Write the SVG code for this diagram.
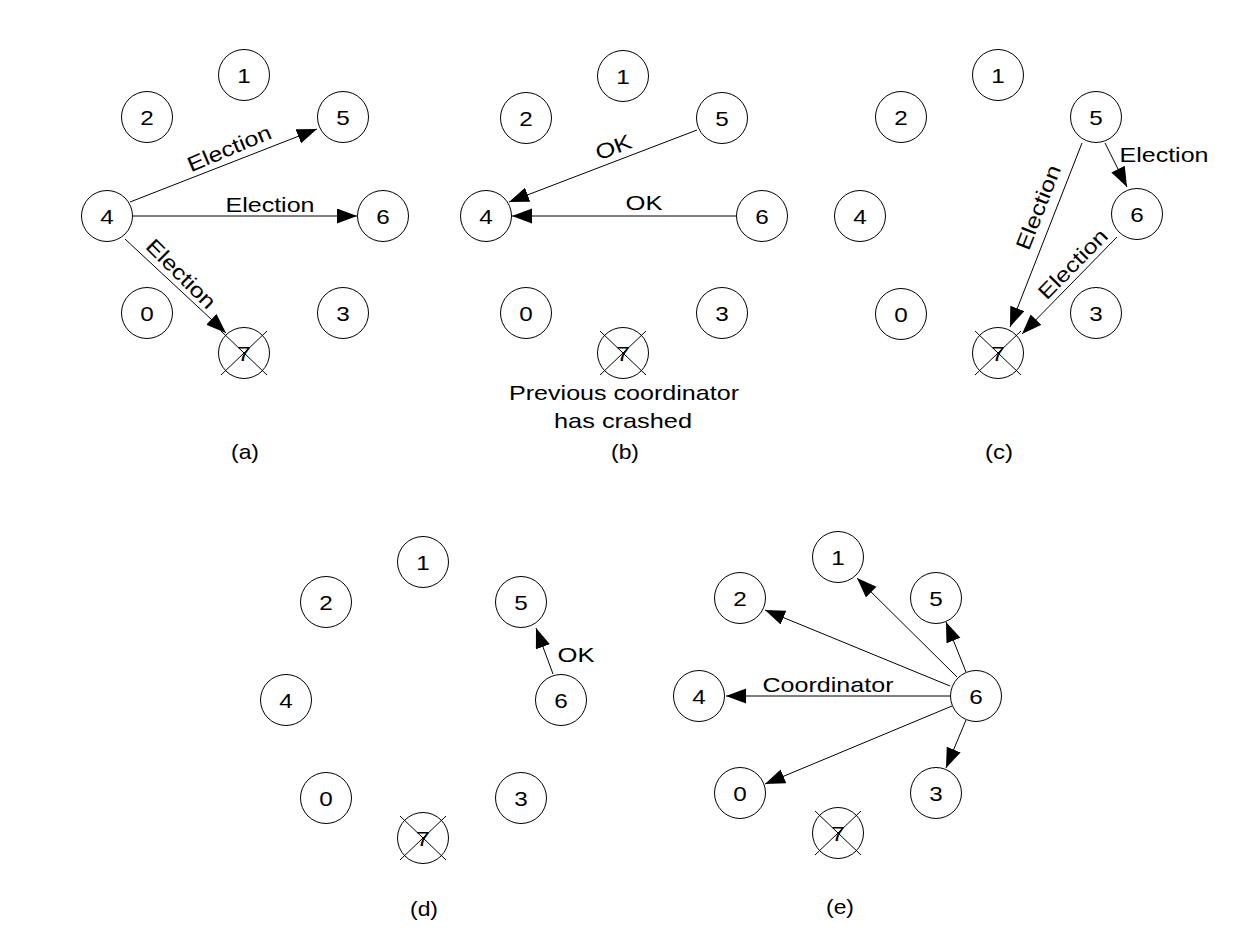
<svg xmlns="http://www.w3.org/2000/svg" width="1241" height="945" viewBox="0 0 1241 945">
  <style>
    .n circle { fill: #fff; stroke: #000; stroke-width: 1; }
    .n text, .lbl { font-family: "Liberation Sans", Arial, sans-serif; font-size: 21px; fill: #000; text-anchor: middle; }
    .x line { stroke: #000; stroke-width: 1; }
    .c line { stroke: #000; stroke-width: 1; fill: none; marker-end: url(#ah); }
  </style>
  <defs>
    <marker id="ah" markerUnits="userSpaceOnUse" markerWidth="21" markerHeight="16" refX="20" refY="7.5" orient="auto">
      <path d="M0,0 L20,7.5 L0,15 z" fill="#000"/>
    </marker>
    <!-- crash mark across a node -->
    <g id="cross" class="x">
      <line x1="-23" y1="-22" x2="23" y2="22"/>
      <line x1="23" y1="-22" x2="-23" y2="22"/>
    </g>
  </defs>

  <rect width="1241" height="945" fill="#fff"/>

  <!-- ===== (a) ===== -->
  <g id="a-nodes">
    <g id="a1" class="n"><circle cx="244" cy="75" r="25.5"/><text x="244" y="83" textLength="13.5" lengthAdjust="spacingAndGlyphs">1</text></g>
    <g id="a2" class="n"><circle cx="147" cy="117" r="25.5"/><text x="147" y="125" textLength="13.5" lengthAdjust="spacingAndGlyphs">2</text></g>
    <g id="a5" class="n"><circle cx="343" cy="117" r="25.5"/><text x="343" y="125" textLength="13.5" lengthAdjust="spacingAndGlyphs">5</text></g>
    <g id="a4" class="n"><circle cx="107" cy="216" r="25.5"/><text x="107" y="224" textLength="13.5" lengthAdjust="spacingAndGlyphs">4</text></g>
    <g id="a6" class="n"><circle cx="383" cy="216" r="25.5"/><text x="383" y="224" textLength="13.5" lengthAdjust="spacingAndGlyphs">6</text></g>
    <g id="a0" class="n"><circle cx="147" cy="313" r="25.5"/><text x="147" y="321" textLength="13.5" lengthAdjust="spacingAndGlyphs">0</text></g>
    <g id="a3" class="n"><circle cx="343" cy="313" r="25.5"/><text x="343" y="321" textLength="13.5" lengthAdjust="spacingAndGlyphs">3</text></g>
    <g id="a7" class="n"><circle cx="244" cy="353" r="25.5"/><text x="244" y="361" textLength="13.5" lengthAdjust="spacingAndGlyphs">7</text><use href="#cross" x="244" y="353"/></g>
  </g>
  <g id="a-edges" class="c">
    <line x1="130" y1="202" x2="317" y2="129"/>
    <line x1="133" y1="216" x2="357" y2="216"/>
    <line x1="125" y1="239" x2="226" y2="333"/>
  </g>
  <g id="a-labels">
    <text class="lbl" transform="translate(232,155) rotate(-22.8)" textLength="89" lengthAdjust="spacingAndGlyphs">Election</text>
    <text class="lbl" x="270" y="211.5" textLength="89" lengthAdjust="spacingAndGlyphs">Election</text>
    <text class="lbl" transform="translate(176,279) rotate(45)" textLength="89" lengthAdjust="spacingAndGlyphs">Election</text>
    <text class="lbl" x="245" y="459" textLength="28" lengthAdjust="spacingAndGlyphs">(a)</text>
  </g>

  <!-- ===== (b) ===== -->
  <g id="b-nodes">
    <g id="b1" class="n"><circle cx="623" cy="76" r="25.5"/><text x="623" y="84" textLength="13.5" lengthAdjust="spacingAndGlyphs">1</text></g>
    <g id="b2" class="n"><circle cx="526" cy="118" r="25.5"/><text x="526" y="126" textLength="13.5" lengthAdjust="spacingAndGlyphs">2</text></g>
    <g id="b5" class="n"><circle cx="722" cy="118" r="25.5"/><text x="722" y="126" textLength="13.5" lengthAdjust="spacingAndGlyphs">5</text></g>
    <g id="b4" class="n"><circle cx="486" cy="216" r="25.5"/><text x="486" y="224" textLength="13.5" lengthAdjust="spacingAndGlyphs">4</text></g>
    <g id="b6" class="n"><circle cx="762" cy="216" r="25.5"/><text x="762" y="224" textLength="13.5" lengthAdjust="spacingAndGlyphs">6</text></g>
    <g id="b0" class="n"><circle cx="526" cy="313" r="25.5"/><text x="526" y="321" textLength="13.5" lengthAdjust="spacingAndGlyphs">0</text></g>
    <g id="b3" class="n"><circle cx="722" cy="313" r="25.5"/><text x="722" y="321" textLength="13.5" lengthAdjust="spacingAndGlyphs">3</text></g>
    <g id="b7" class="n"><circle cx="623" cy="353" r="25.5"/><text x="623" y="361" textLength="13.5" lengthAdjust="spacingAndGlyphs">7</text><use href="#cross" x="623" y="353"/></g>
  </g>
  <g id="b-edges" class="c">
    <line x1="697" y1="130" x2="509" y2="202"/>
    <line x1="736" y1="216" x2="512" y2="216"/>
  </g>
  <g id="b-labels">
    <text class="lbl" transform="translate(616,154) rotate(-20.9)" textLength="37" lengthAdjust="spacingAndGlyphs">OK</text>
    <text class="lbl" x="644" y="210" textLength="37" lengthAdjust="spacingAndGlyphs">OK</text>
    <text class="lbl" x="624" y="400" textLength="230" lengthAdjust="spacingAndGlyphs">Previous coordinator</text>
    <text class="lbl" x="623" y="428" textLength="138" lengthAdjust="spacingAndGlyphs">has crashed</text>
    <text class="lbl" x="625" y="459" textLength="28" lengthAdjust="spacingAndGlyphs">(b)</text>
  </g>

  <!-- ===== (c) ===== -->
  <g id="c-nodes">
    <g id="c1" class="n"><circle cx="998" cy="75" r="25.5"/><text x="998" y="83" textLength="13.5" lengthAdjust="spacingAndGlyphs">1</text></g>
    <g id="c2" class="n"><circle cx="901" cy="117" r="25.5"/><text x="901" y="125" textLength="13.5" lengthAdjust="spacingAndGlyphs">2</text></g>
    <g id="c5" class="n"><circle cx="1096" cy="117" r="25.5"/><text x="1096" y="125" textLength="13.5" lengthAdjust="spacingAndGlyphs">5</text></g>
    <g id="c4" class="n"><circle cx="860" cy="216" r="25.5"/><text x="860" y="224" textLength="13.5" lengthAdjust="spacingAndGlyphs">4</text></g>
    <g id="c6" class="n"><circle cx="1137" cy="214" r="25.5"/><text x="1137" y="222" textLength="13.5" lengthAdjust="spacingAndGlyphs">6</text></g>
    <g id="c0" class="n"><circle cx="901" cy="314" r="25.5"/><text x="901" y="322" textLength="13.5" lengthAdjust="spacingAndGlyphs">0</text></g>
    <g id="c3" class="n"><circle cx="1096" cy="313" r="25.5"/><text x="1096" y="321" textLength="13.5" lengthAdjust="spacingAndGlyphs">3</text></g>
    <g id="c7" class="n"><circle cx="998" cy="353" r="25.5"/><text x="998" y="361" textLength="13.5" lengthAdjust="spacingAndGlyphs">7</text><use href="#cross" x="998" y="353"/></g>
  </g>
  <g id="c-edges" class="c">
    <line x1="1105" y1="143" x2="1127" y2="187"/>
    <line x1="1082" y1="143" x2="1010" y2="327"/>
    <line x1="1117" y1="237" x2="1022" y2="334"/>
  </g>
  <g id="c-labels">
    <text class="lbl" x="1164" y="162" textLength="89" lengthAdjust="spacingAndGlyphs">Election</text>
    <text class="lbl" transform="translate(1045,210) rotate(-68.6)" textLength="89" lengthAdjust="spacingAndGlyphs">Election</text>
    <text class="lbl" transform="translate(1078,269) rotate(-45.6)" textLength="89" lengthAdjust="spacingAndGlyphs">Election</text>
    <text class="lbl" x="999" y="459" textLength="28" lengthAdjust="spacingAndGlyphs">(c)</text>
  </g>

  <!-- ===== (d) ===== -->
  <g id="d-nodes">
    <g id="d1" class="n"><circle cx="423" cy="562" r="25.5"/><text x="423" y="570" textLength="13.5" lengthAdjust="spacingAndGlyphs">1</text></g>
    <g id="d2" class="n"><circle cx="326" cy="602" r="25.5"/><text x="326" y="610" textLength="13.5" lengthAdjust="spacingAndGlyphs">2</text></g>
    <g id="d5" class="n"><circle cx="521" cy="602" r="25.5"/><text x="521" y="610" textLength="13.5" lengthAdjust="spacingAndGlyphs">5</text></g>
    <g id="d4" class="n"><circle cx="286" cy="700" r="25.5"/><text x="286" y="708" textLength="13.5" lengthAdjust="spacingAndGlyphs">4</text></g>
    <g id="d6" class="n"><circle cx="561" cy="700" r="25.5"/><text x="561" y="708" textLength="13.5" lengthAdjust="spacingAndGlyphs">6</text></g>
    <g id="d0" class="n"><circle cx="326" cy="798" r="25.5"/><text x="326" y="806" textLength="13.5" lengthAdjust="spacingAndGlyphs">0</text></g>
    <g id="d3" class="n"><circle cx="521" cy="798" r="25.5"/><text x="521" y="806" textLength="13.5" lengthAdjust="spacingAndGlyphs">3</text></g>
    <g id="d7" class="n"><circle cx="423" cy="838" r="25.5"/><text x="423" y="846" textLength="13.5" lengthAdjust="spacingAndGlyphs">7</text><use href="#cross" x="423" y="838"/></g>
  </g>
  <g id="d-edges" class="c">
    <line x1="553" y1="674" x2="536" y2="628"/>
  </g>
  <g id="d-labels">
    <text class="lbl" x="576" y="662" textLength="37" lengthAdjust="spacingAndGlyphs">OK</text>
    <text class="lbl" x="424" y="916" textLength="28" lengthAdjust="spacingAndGlyphs">(d)</text>
  </g>

  <!-- ===== (e) ===== -->
  <g id="e-nodes">
    <g id="e1" class="n"><circle cx="838" cy="557" r="25.5"/><text x="838" y="565" textLength="13.5" lengthAdjust="spacingAndGlyphs">1</text></g>
    <g id="e2" class="n"><circle cx="740" cy="598" r="25.5"/><text x="740" y="606" textLength="13.5" lengthAdjust="spacingAndGlyphs">2</text></g>
    <g id="e5" class="n"><circle cx="936" cy="598" r="25.5"/><text x="936" y="606" textLength="13.5" lengthAdjust="spacingAndGlyphs">5</text></g>
    <g id="e4" class="n"><circle cx="699" cy="696" r="25.5"/><text x="699" y="704" textLength="13.5" lengthAdjust="spacingAndGlyphs">4</text></g>
    <g id="e6" class="n"><circle cx="976" cy="696" r="25.5"/><text x="976" y="704" textLength="13.5" lengthAdjust="spacingAndGlyphs">6</text></g>
    <g id="e0" class="n"><circle cx="740" cy="793" r="25.5"/><text x="740" y="801" textLength="13.5" lengthAdjust="spacingAndGlyphs">0</text></g>
    <g id="e3" class="n"><circle cx="936" cy="793" r="25.5"/><text x="936" y="801" textLength="13.5" lengthAdjust="spacingAndGlyphs">3</text></g>
    <g id="e7" class="n"><circle cx="838" cy="833" r="25.5"/><text x="838" y="841" textLength="13.5" lengthAdjust="spacingAndGlyphs">7</text><use href="#cross" x="838" y="833"/></g>
  </g>
  <g id="e-edges" class="c">
    <line x1="957" y1="677" x2="857" y2="578"/>
    <line x1="950" y1="686" x2="765" y2="610"/>
    <line x1="966" y1="672" x2="946" y2="622"/>
    <line x1="950" y1="696" x2="726" y2="696"/>
    <line x1="952" y1="706" x2="765" y2="784"/>
    <line x1="966" y1="720" x2="946" y2="768"/>
  </g>
  <g id="e-labels">
    <text class="lbl" x="828" y="692" textLength="131" lengthAdjust="spacingAndGlyphs">Coordinator</text>
    <text class="lbl" x="840" y="914" textLength="28" lengthAdjust="spacingAndGlyphs">(e)</text>
  </g>
</svg>
